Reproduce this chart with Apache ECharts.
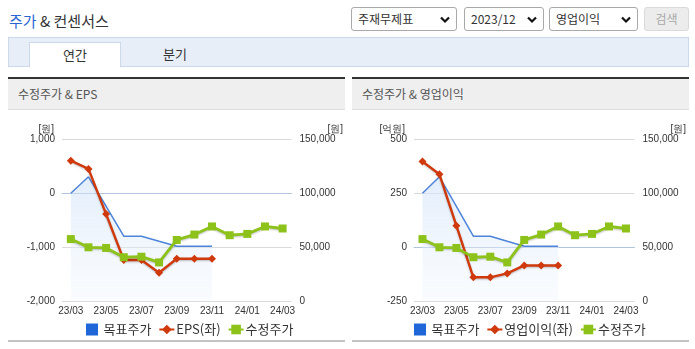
<!DOCTYPE html>
<html>
<head>
<meta charset="utf-8">
<script src="https://cdn.jsdelivr.net/npm/echarts@6/dist/echarts.min.js"></script>
<style>
  html, body { margin:0; padding:0; background:#fff; }
  body { width:695px; height:349px; position:relative; overflow:hidden; font-family:"Noto Sans CJK KR", sans-serif; color:#333; }
  .abs { position:absolute; }
  .title { left:9px; top:10px; font-size:15px; line-height:22px; color:#333; }
  .title b { font-weight:normal; color:#2a66d4; }
  .sel { top:7px; height:22px; border:1px solid #a9a9a9; border-radius:3px; background:#fff; font-size:12px; line-height:22px; padding-left:6px; box-sizing:content-box; }
  .sel svg { position:absolute; right:6px; top:8px; }
  .btn { left:644px; top:7px; width:43px; height:22px; border:1px solid #dadada; border-radius:3px; background:#ececec; color:#a8a8a8; font-size:12px; line-height:22px; text-align:center; }
  .tabbar { left:8px; top:37px; width:679px; height:28px; background:#e8eef8; border:1px solid #cdd8ea; }
  .tab { top:42px; left:29px; width:90px; height:24px; background:#fff; border:1px solid #cdd8ea; border-bottom:none; text-align:center; font-size:13px; line-height:24px; }
  .tab2 { top:42px; left:130px; width:90px; height:24px; text-align:center; font-size:13px; line-height:24px; }
  .panel { top:77px; width:337px; height:30px; border-top:2px solid #333; background:#efefef; border-bottom:1px solid #dedede; }
  .panel span { position:absolute; left:10px; top:0; font-size:12px; line-height:30px; color:#555; }
  .foot { top:340px; width:337px; height:2px; background:#c4c4c4; }
  .chart { top:110px; height:228px; }
</style>
</head>
<body>
<div class="abs title"><b>주가</b> &amp; 컨센서스</div>

<div class="abs sel" style="left:351px;width:98px;">주재무제표<svg width="10" height="8" viewBox="0 0 10 8"><polyline points="1,1.5 5,5.5 9,1.5" fill="none" stroke="#111" stroke-width="2.2"/></svg></div>
<div class="abs sel" style="left:464px;width:72px;">2023/12<svg width="10" height="8" viewBox="0 0 10 8"><polyline points="1,1.5 5,5.5 9,1.5" fill="none" stroke="#111" stroke-width="2.2"/></svg></div>
<div class="abs sel" style="left:549px;width:81px;">영업이익<svg width="10" height="8" viewBox="0 0 10 8"><polyline points="1,1.5 5,5.5 9,1.5" fill="none" stroke="#111" stroke-width="2.2"/></svg></div>
<div class="abs btn">검색</div>

<div class="abs tabbar"></div>
<div class="abs tab">연간</div>
<div class="abs tab2">분기</div>

<div class="abs panel" style="left:8px;"><span>수정주가 &amp; EPS</span></div>
<div class="abs panel" style="left:352px;"><span>수정주가 &amp; 영업이익</span></div>

<div id="c1" class="abs chart" style="left:8px;width:338px;"></div>
<div id="c2" class="abs chart" style="left:352px;width:337px;"></div>

<div class="abs foot" style="left:8px;"></div>
<div class="abs foot" style="left:352px;"></div>

<script>
// ---- data ----
var categories = ['23/03','23/04','23/05','23/06','23/07','23/08','23/09','23/10','23/11','23/12','24/01','24/02','24/03'];
var targetPrice = [100000, 115300, 88000, 60300, 60300, 55600, 51000, 51000, 51000];
var adjPrice = [57600, 50000, 49400, 40800, 41300, 36000, 56800, 61800, 69300, 61200, 62400, 69300, 67400];
var eps = [605, 452, -385, -1235, -1235, -1472, -1212, -1212, -1212];
var opProfit = [397, 338, 100, -139, -139, -121, -84, -84, -84];
var leftTicks1 = { min: -2000, max: 1000, interval: 1000 };
var leftTicks2 = { min: -250, max: 500, interval: 250 };
var rightTicks = { min: 0, max: 150000, interval: 50000 };

var RED = '#d0390b', GREEN = '#8cc21a', BLUE_LINE = '#4d84da', BLUE_BOX = '#1f66d8';
var NUM_FONT = '"Liberation Sans Narrow", "Arial Narrow", "Liberation Sans", sans-serif';
var KR_FONT = '"Noto Sans CJK KR", sans-serif';

function fmt(v) { return Number(v).toLocaleString('en-US'); }

function build(leftName, leftCfg, barName, barData, gridLeft, gridRight, leftNamePad, legendLeft) {
  return {
    animation: false,
    grid: { left: gridLeft, right: gridRight, top: 29.3, height: 162 },
    legend: {
      left: legendLeft, top: 208, itemWidth: 15, itemHeight: 12, itemGap: 7,
      textStyle: { fontFamily: KR_FONT, fontSize: 13, color: '#333', padding: [0, 0, 0, -3] },
      data: [
        { name: '목표주가', icon: 'path://M0,0L12,0L12,12L0,12Z', itemStyle: { color: BLUE_BOX }, textStyle: { padding: [0, 0, 0, -1] } },
        { name: barName },
        { name: '수정주가' }
      ]
    },
    xAxis: {
      type: 'category', data: categories, boundaryGap: true,
      axisLine: { lineStyle: { color: '#b3c5dc', width: 1 } },
      axisTick: { length: 5, lineStyle: { color: '#b3c5dc' }, interval: function (i) { return i === 0 || i % 2 === 1; } },
      axisLabel: { interval: 1, margin: 5, fontFamily: NUM_FONT, fontSize: 10, color: '#333' },
      splitLine: { show: false }
    },
    yAxis: [
      {
        type: 'value', min: leftCfg.min, max: leftCfg.max, interval: leftCfg.interval,
        name: leftName, nameLocation: 'end', nameGap: 5,
        nameTextStyle: { fontFamily: NUM_FONT, fontSize: 10, color: '#333', align: 'right', padding: [0, leftNamePad, 0, 0] },
        axisLine: { show: false }, axisTick: { show: false },
        axisLabel: { margin: 7, fontFamily: NUM_FONT, fontSize: 10, color: '#333', formatter: fmt },
        splitLine: { lineStyle: { color: '#dadada', width: 1 } }
      },
      {
        type: 'value', min: rightTicks.min, max: rightTicks.max, interval: rightTicks.interval,
        name: '[원]', nameLocation: 'end', nameGap: 5,
        nameTextStyle: { fontFamily: NUM_FONT, fontSize: 10, color: '#333', align: 'left', padding: [0, 0, 0, 36] },
        axisLine: { show: false }, axisTick: { show: false },
        axisLabel: { margin: 8, fontFamily: NUM_FONT, fontSize: 10, color: '#333', formatter: fmt },
        splitLine: { show: false }
      }
    ],
    series: [
      {
        name: '목표주가', type: 'line', yAxisIndex: 1, data: targetPrice,
        symbol: 'none', color: BLUE_BOX,
        lineStyle: { color: BLUE_LINE, width: 1.5 },
        areaStyle: {
          color: new echarts.graphic.LinearGradient(0, 0, 0, 1, [
            { offset: 0, color: 'rgba(205,224,248,0.8)' },
            { offset: 1, color: 'rgba(240,246,253,0.5)' }
          ])
        },
        z: 1
      },
      {
        name: barName, type: 'line', yAxisIndex: 0, data: barData,
        symbol: 'diamond', symbolSize: 8, color: RED,
        itemStyle: { color: RED },
        lineStyle: { color: RED, width: 2.4, shadowColor: 'rgba(0,0,0,0.25)', shadowBlur: 2, shadowOffsetY: 1 },
        z: 2
      },
      {
        name: '수정주가', type: 'line', yAxisIndex: 1, data: adjPrice,
        symbol: 'rect', symbolSize: 8, color: GREEN,
        itemStyle: { color: GREEN },
        lineStyle: { color: GREEN, width: 2.8, shadowColor: 'rgba(0,0,0,0.25)', shadowBlur: 2, shadowOffsetY: 1 },
        z: 3
      }
    ]
  };
}

var c1 = echarts.init(document.getElementById('c1'), null, { renderer: 'canvas' });
c1.setOption(build('[원]', leftTicks1, 'EPS(좌)', eps, 54, 54, 8, 73));
var c2 = echarts.init(document.getElementById('c2'), null, { renderer: 'canvas' });
c2.setOption(build('[억원]', leftTicks2, '영업이익(좌)', opProfit, 62, 53.5, 9, 57));
</script>
</body>
</html>
